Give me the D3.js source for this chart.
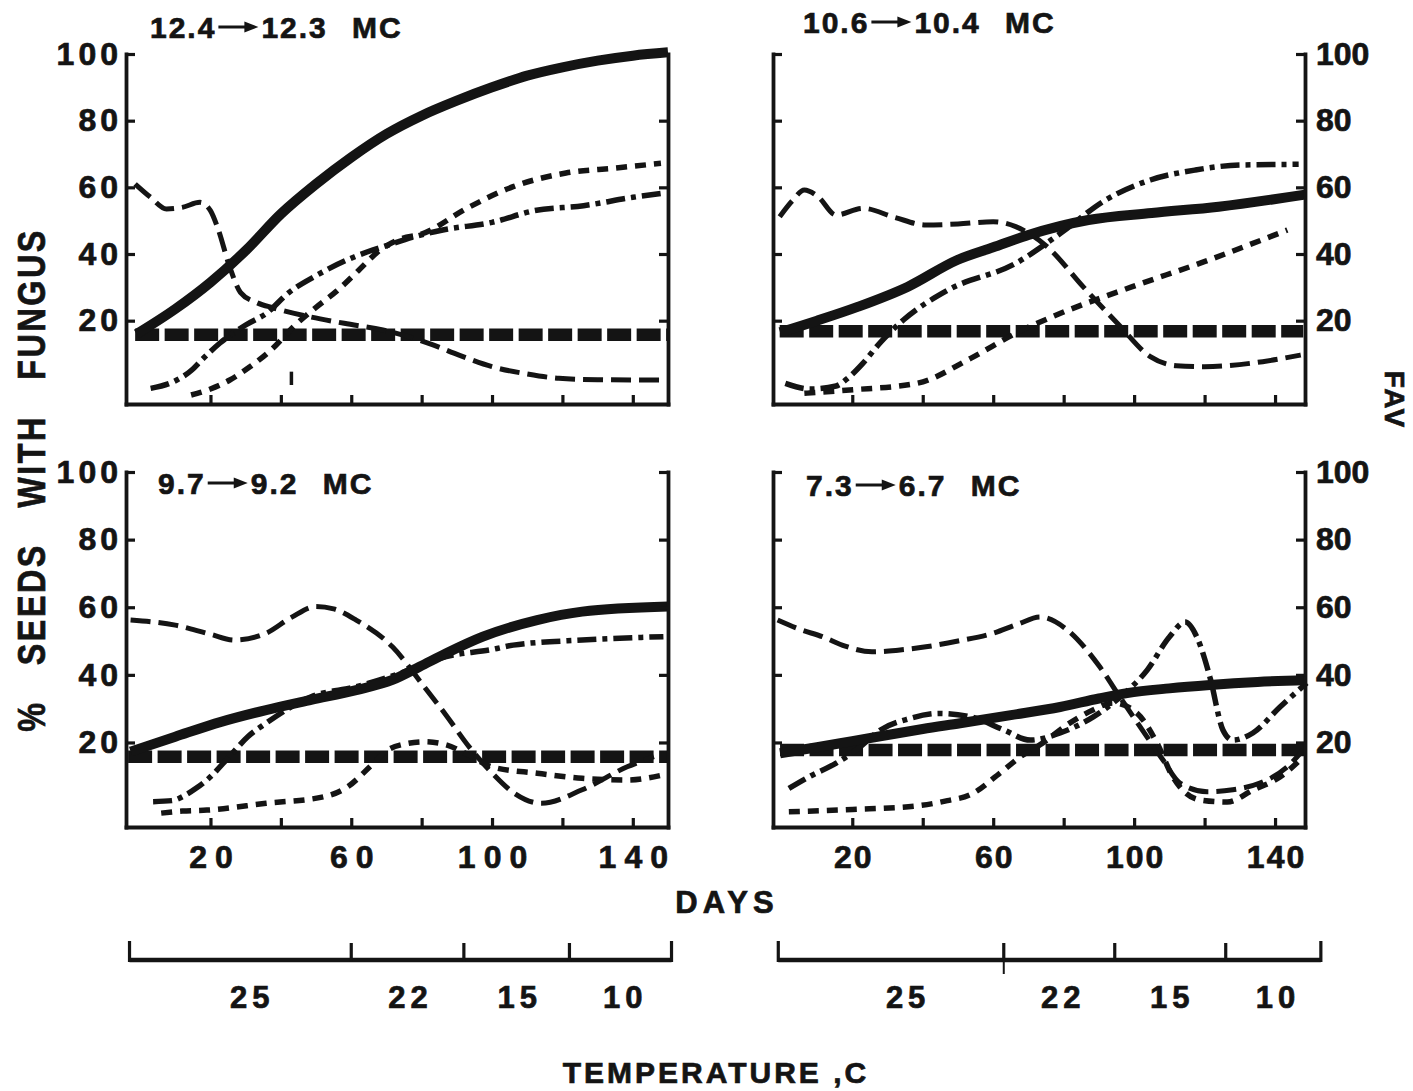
<!DOCTYPE html>
<html>
<head>
<meta charset="utf-8">
<script src="https://cdn.jsdelivr.net/npm/d3@7"></script>
<style>
  body { margin: 0; background: #fff; }
  svg text { font-family: "Liberation Sans", Arial, Helvetica, sans-serif; font-weight: bold; fill: #141414;
             stroke: #141414; stroke-width: 0.7px; }
</style>
</head>
<body>
<svg id="chart" width="1413" height="1091"></svg>
<script>
// panel titles (moisture content change): [from, to]
const titleFrom = ["12.4", "10.6", "9.7", "7.3"];
const titleTo = ["12.3", "10.4", "9.2", "6.7"];

// y ticks and x ticks
const yTicks = [20, 40, 60, 80, 100];
const xTicks = [20, 40, 60, 80, 100, 120, 140];
const xLabelled = [20, 60, 100, 140];

// [day, value]
// top left 12.4 -> 12.3
const tlSolid = [[-1,16],[10,23.5],[20,31.5],[30,41],[40,52],[50,61],[60,69],[70,76],[80,81.5],[90,86],[100,90],[110,93.5],[120,96],[130,98],[140,99.5],[150,100.5]];
const tlHeavy = [[-1.4,15.8],[150,15.8]];
const tlLong = [[-1.4,61],[3,57],[7.5,53.5],[12,54],[17,55.5],[20,53],[22,48],[25.5,36],[28.5,28.5],[33,25.5],[38,23.8],[48,21.2],[58,19.2],[69,17.2],[82,13.2],[91,9.5],[100,6.2],[110,4],[119,2.7],[130,2.3],[149,2.2]];
const tlShort = [[14.5,-2.3],[20,-0.5],[25.5,2.2],[31,6],[37.8,11.8],[43.5,18.1],[50,24],[56,29],[62,35],[68,41],[74,44.5],[80,46],[93,53.8],[106,60.2],[121,64.3],[135,65.8],[148,67.2]];
const tlDashDot = [[3,-0.3],[9.5,1.7],[14.7,5.2],[17.5,8.2],[22.7,13.3],[30,18.7],[36,22.3],[42,28.2],[50,33.5],[61,39.2],[70,42.5],[78,45.2],[86,47.2],[100,49.5],[112,53],[126,54.5],[140,57],[149,58.3]];
const tlStray = [[43,0.7,4.7]];

// top right 10.6 -> 10.4
const trSolid = [[-0.5,16.5],[10,20],[21.7,24.2],[35.8,30.2],[49.8,38.2],[60,42],[70,45.7],[87,50.2],[105,52.3],[124,54.2],[148.5,57.8]];
const trHeavy = [[-0.6,16.8],[148,16.8]];
const trLong = [[-0.6,51.2],[3,56],[6.4,59.2],[10.3,57.2],[15.4,51.7],[23,53.7],[32,51],[40.9,48.7],[50,49],[60,49.7],[66.4,48.2],[75.3,42.2],[85.5,30.2],[95.7,18.7],[104.6,9.2],[112,6.5],[119.9,6.2],[136.5,7.7],[147.3,9.7]];
const trShort = [[6.4,-1.8],[19.2,-0.8],[38.3,1.2],[53.6,8.7],[66.4,16.2],[79.1,22.2],[99.5,30.2],[119.9,37.7],[143.5,47.2]];
const trDashDot = [[1,1.2],[8,-0.5],[15.4,0.4],[19,3],[23,7.2],[28,13.5],[34.5,20.2],[47.2,29.2],[66.4,37.2],[79.1,46.2],[91.9,56.2],[104.6,62.2],[117.4,65.2],[130.1,66.7],[146.7,66.9]];

// bottom left 9.7 -> 9.2
const blSolid = [[-2.7,17.3],[10,21.7],[23,26.1],[35.8,29.6],[48.6,32.6],[61.4,35.5],[71.7,38.5],[79.4,42.4],[87,46.4],[97.4,51.3],[112.8,56.2],[125.6,58.7],[150,60.2]];
const blHeavy = [[-3.4,15.8],[150,15.8]];
const blLong = [[-2.7,56.2],[10,54.7],[20,52],[26.8,50.3],[35.8,52.3],[43,57],[49.9,60.2],[55,59.5],[61.4,56.2],[71.7,48.3],[80.7,36.5],[87,28],[93.5,18.7],[100,11],[106.3,5],[114,2],[125.6,6],[138.4,12.8],[146,15.8]];
const blShort = [[6,-0.9],[12,-0.3],[19,0],[35.8,2],[52.5,4],[59,6.9],[65.3,12.8],[70.4,17.8],[75,19.5],[80.7,20.2],[87,19.3],[93,16.5],[100,12.8],[112.8,10.9],[125.6,9.4],[138.4,8.9],[148.7,10.4]];
const blDashDot = [[3.7,2.5],[9,2.8],[13,4.5],[16,6.5],[19,8.9],[25.5,16],[30.6,21.7],[35.8,25.7],[48.6,33.5],[61.4,36.5],[74,40.5],[87,45.4],[100,47.5],[106,48.8],[125.6,50.3],[148.7,51.3]];

// bottom right 7.3 -> 6.7
const brSolid = [[-0.5,16.8],[10,18.6],[20,20.4],[30,22.2],[40,24],[50.6,25.7],[65,28.1],[79,30.5],[90,33],[98,34.6],[110,36],[121.5,37],[135,37.9],[149,38.5]];
const brHeavy = [[-0.5,17.8],[148.5,17.8]];
const brLong = [[-1.2,56.2],[5,53.5],[11.5,51.3],[18,48.5],[25.6,46.8],[33,47.3],[40.9,48.3],[50,50],[60,52.3],[67,55],[73.3,57.1],[81,53.3],[86.6,47.3],[90.3,42.3],[96,33.4],[103.7,21.6],[108.2,14.8],[113,8],[120.7,5.4],[128,6],[135.7,8],[143.4,12.7],[148,17.8]];
const brShort = [[2,-0.5],[20,0.2],[38,1.2],[47,2.8],[53.4,4.5],[62,11],[67.6,15.7],[74,19.8],[81.8,25.8],[88.3,29.6],[94,31.7],[100.8,28.7],[106.5,19.8],[111,9.8],[118.7,3],[126.4,2.4],[133.7,5.9],[141.4,9.8],[148,15.7]];
const brDashDot = [[2,6.4],[8,10],[15.3,13.8],[22,18.5],[28,23.7],[36,27],[44.7,28.6],[53.6,27.6],[63,23.7],[70.5,20.7],[79,22.8],[88.3,27.5],[96,33.4],[103.7,41.4],[110,51.2],[114.5,55.6],[117.8,51.2],[121.5,39.4],[125.2,23.7],[128,20.7],[133.7,22.8],[141.4,30.5],[149,37.6]];

// temperature regime bars (day boundaries) and labels
const tempLabels = ["25", "22", "15", "10"];
const tempBreaksL = [-3, 60, 92, 122, 151];
const tempBreaksR = [-1, 63, 94.5, 126, 153];
const tempLabelDaysL = [31, 76, 107, 137];
const tempLabelDaysR = [35, 79, 110, 140];
const tempLongTicksR = [63];

const ink = "#141414";
const svg = d3.select("#chart");

// line styles
const styles = {
    heavy: { w: 12.5, dash: "24 5.5", curve: d3.curveLinear },
    long: { w: 5, dash: "20 8", curve: d3.curveMonotoneX },
    short: { w: 5.5, dash: "11 8", curve: d3.curveMonotoneX },
    dashDot: { w: 5.5, dash: "19 6 5 6", curve: d3.curveMonotoneX },
    solid: { w: 10, dash: null, curve: d3.curveMonotoneX }
};

const panels = [
    { i: 0, tx: 150, ty: 38, x0: 126, x1: 668, top: 54, bot: 404, dom: [-4, 150], side: "left", labels: false,
      series: { heavy: tlHeavy, long: tlLong, short: tlShort, dashDot: tlDashDot, solid: tlSolid }, stray: tlStray },
    { i: 1, tx: 803, ty: 33, x0: 773, x1: 1305, top: 54, bot: 404, dom: [-2.5, 148.5], side: "right", labels: false,
      series: { heavy: trHeavy, long: trLong, short: trShort, dashDot: trDashDot, solid: trSolid }, stray: [] },
    { i: 2, tx: 158, ty: 494, x0: 126, x1: 668, top: 472, bot: 827, dom: [-4, 150], side: "left", labels: true,
      series: { heavy: blHeavy, long: blLong, short: blShort, dashDot: blDashDot, solid: blSolid }, stray: [] },
    { i: 3, tx: 806, ty: 496, x0: 773, x1: 1305, top: 472, bot: 827, dom: [-2.5, 148.5], side: "right", labels: true,
      series: { heavy: brHeavy, long: brLong, short: brShort, dashDot: brDashDot, solid: brSolid }, stray: [] }
];

function styleAxis(g, fontSize, spacing) {
    g.selectAll(".domain").attr("stroke", ink).attr("stroke-width", 3.8).attr("stroke-linecap", "square");
    g.selectAll(".tick line").attr("stroke", ink).attr("stroke-width", 3.2);
    g.selectAll(".tick text")
        .attr("fill", ink)
        .attr("stroke", ink)
        .attr("stroke-width", 0.7)
        .style("font-family", '"Liberation Sans", Arial, sans-serif')
        .style("font-weight", "bold")
        .style("font-size", fontSize + "px")
        .style("letter-spacing", spacing + "px");
}

// "12.4 ——► 12.3  MC"
function drawTitle(g, p) {
    const t1 = g.append("text")
        .attr("x", p.tx).attr("y", p.ty)
        .style("font-size", "30px")
        .style("letter-spacing", "2px")
        .text(titleFrom[p.i]);
    const a0 = p.tx + t1.node().getComputedTextLength() + 2;
    const ay = p.ty - 11;
    g.append("line")
        .attr("x1", a0).attr("x2", a0 + 28)
        .attr("y1", ay).attr("y2", ay)
        .attr("stroke", ink).attr("stroke-width", 3);
    g.append("path")
        .attr("d", `M${a0 + 26},${ay - 5.5}L${a0 + 40},${ay}L${a0 + 26},${ay + 5.5}Z`)
        .attr("fill", ink);
    g.append("text")
        .attr("x", a0 + 43).attr("y", p.ty)
        .style("font-size", "30px")
        .style("letter-spacing", "2px")
        .style("word-spacing", "14px")
        .text(titleTo[p.i] + " MC");
}

function drawPanel(p) {
    const x = d3.scaleLinear().domain(p.dom).range([p.x0, p.x1]);
    const y = d3.scaleLinear().domain([-5, 100]).range([p.bot, p.top]);
    const g = svg.append("g");

    // series
    Object.keys(styles).forEach((k) => {
        const st = styles[k];
        const line = d3.line().x((d) => x(d[0])).y((d) => y(d[1])).curve(st.curve);
        g.append("path")
            .datum(p.series[k])
            .attr("d", line)
            .attr("fill", "none")
            .attr("stroke", ink)
            .attr("stroke-width", st.w)
            .attr("stroke-dasharray", st.dash);
    });

    // stray pen mark
    g.selectAll(".stray")
        .data(p.stray)
        .join("line")
        .attr("x1", (d) => x(d[0])).attr("x2", (d) => x(d[0]))
        .attr("y1", (d) => y(d[1])).attr("y2", (d) => y(d[2]))
        .attr("stroke", ink).attr("stroke-width", 3.5);

    // left + right axes, ticks pointing inward
    const leftAx = d3.axisLeft(y).tickValues(yTicks).tickSize(-9).tickSizeOuter(0).tickPadding(-3);
    const rightAx = d3.axisRight(y).tickValues(yTicks).tickSize(-9).tickSizeOuter(0).tickPadding(11);
    if (p.side === "left") rightAx.tickFormat("");
    else leftAx.tickFormat("");

    const gl = g.append("g").attr("transform", `translate(${p.x0},0)`).call(leftAx);
    styleAxis(gl, 32, 4);
    gl.selectAll(".tick text").attr("x", -4);
    const gr = g.append("g").attr("transform", `translate(${p.x1},0)`).call(rightAx);
    styleAxis(gr, 32, 0);

    // bottom axis
    const botAx = d3.axisBottom(x).tickValues(xTicks).tickSize(-9).tickSizeOuter(0)
        .tickFormat((d) => (p.labels && xLabelled.includes(d) ? d : ""));
    const gb = g.append("g").attr("transform", `translate(0,${p.bot})`).call(botAx);
    styleAxis(gb, 32, p.side === "left" ? 8 : 2);
    gb.selectAll(".tick text").attr("y", 18).attr("dy", "0.71em")
        .attr("dx", p.side === "left" ? 4 : 1);

    drawTitle(g, p);
}

panels.forEach(drawPanel);

// temperature bars
function drawTempBar(dom, x0, x1, breaks, labelDays, longTicks) {
    const x = d3.scaleLinear().domain(dom).range([x0, x1]);
    const barY = 960;
    const g = svg.append("g");
    g.append("line")
        .attr("x1", x(breaks[0])).attr("x2", x(breaks[breaks.length - 1]))
        .attr("y1", barY).attr("y2", barY)
        .attr("stroke", ink).attr("stroke-width", 4.5);
    g.selectAll(".tt")
        .data(breaks)
        .join("line")
        .attr("x1", (d) => x(d)).attr("x2", (d) => x(d))
        .attr("y1", barY + 2)
        .attr("y2", (d, i) => (i === 0 || i === breaks.length - 1 ? barY - 19 : barY - 17))
        .attr("stroke", ink).attr("stroke-width", 3.2);
    g.selectAll(".lt")
        .data(longTicks)
        .join("line")
        .attr("x1", (d) => x(d)).attr("x2", (d) => x(d))
        .attr("y1", barY).attr("y2", barY + 14)
        .attr("stroke", ink).attr("stroke-width", 2);
    g.selectAll(".tl")
        .data(tempLabels)
        .join("text")
        .attr("x", (d, i) => x(labelDays[i]) + 3)
        .attr("y", 1008)
        .attr("text-anchor", "middle")
        .style("font-size", "31px")
        .style("letter-spacing", "5px")
        .text((d) => d);
}
drawTempBar([-4, 150], 126, 668, tempBreaksL, tempLabelDaysL, []);
drawTempBar([-2.5, 148.5], 773, 1305, tempBreaksR, tempLabelDaysR, tempLongTicksR);

// axis titles
svg.append("text")
    .attr("transform", "translate(45,480) rotate(-90) scale(0.85,1)")
    .attr("text-anchor", "middle")
    .style("font-size", "38px")
    .style("letter-spacing", "3px")
    .style("word-spacing", "28px")
    .text("% SEEDS WITH FUNGUS");

svg.append("text")
    .attr("transform", "translate(1385,400) rotate(90)")
    .attr("text-anchor", "middle")
    .style("font-size", "28px")
    .style("letter-spacing", "2px")
    .text("FAV");

svg.append("text")
    .attr("x", 727).attr("y", 913)
    .attr("text-anchor", "middle")
    .style("font-size", "31px")
    .style("letter-spacing", "5px")
    .text("DAYS");

svg.append("text")
    .attr("x", 716).attr("y", 1083)
    .attr("text-anchor", "middle")
    .style("font-size", "30px")
    .style("letter-spacing", "3px")
    .text("TEMPERATURE ,C");
</script>
</body>
</html>
